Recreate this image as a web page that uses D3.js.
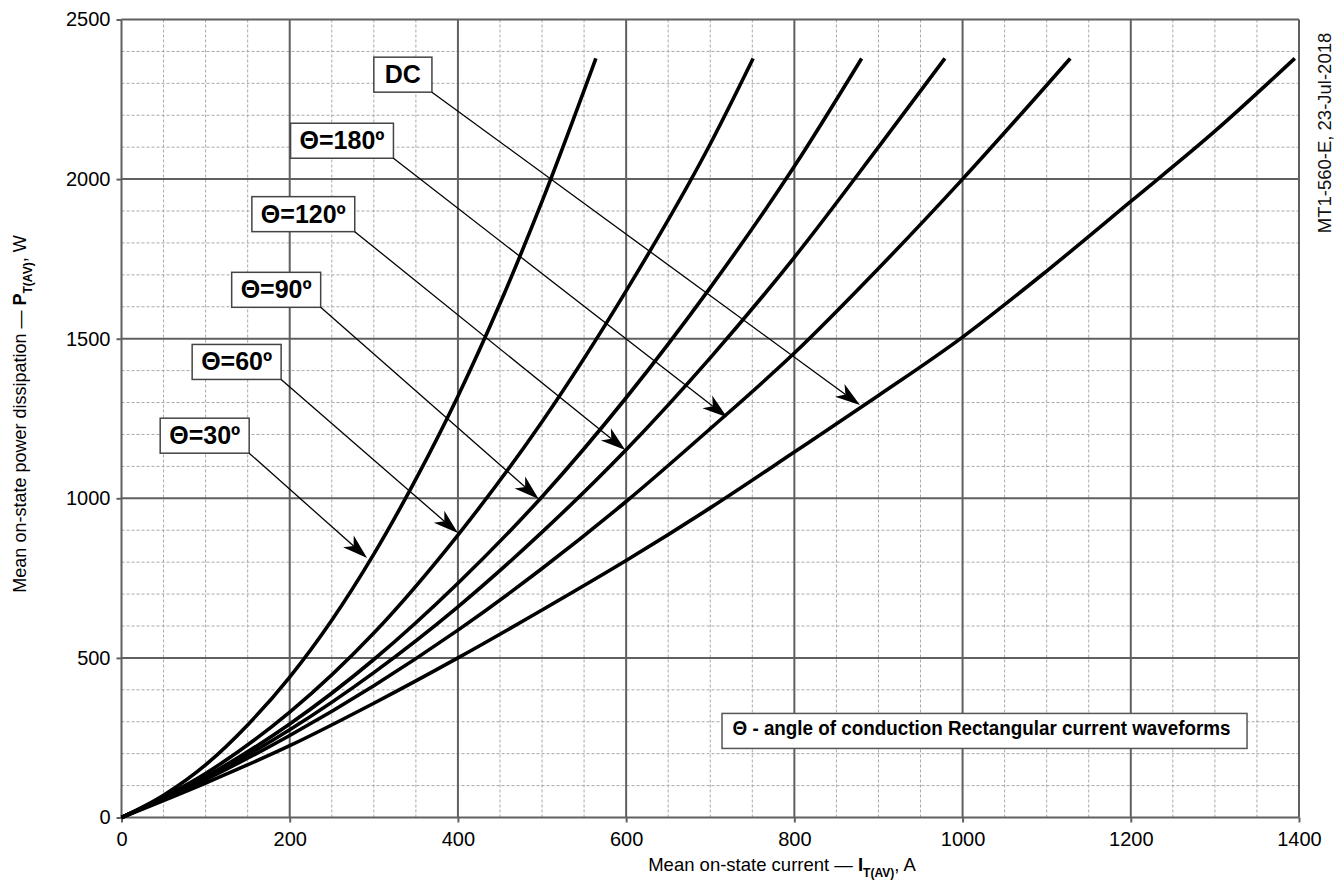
<!DOCTYPE html>
<html><head><meta charset="utf-8">
<script src="https://cdn.jsdelivr.net/npm/d3@7"></script>
<style>
body{margin:0;background:#fff;}
svg text{font-family:"Liberation Sans", Arial, Helvetica, sans-serif;}
</style></head>
<body><svg id="chart" width="1343" height="884"></svg>
<script>
// ---------- data ----------
const xTickValues = [0, 200, 400, 600, 800, 1000, 1200, 1400];
const yTickValues = [0, 500, 1000, 1500, 2000, 2500];

const current30  = [0, 50, 100, 150, 200, 250, 300, 350, 400, 450, 500, 564];
const power30    = [0, 70, 165, 290, 440, 618, 825, 1060, 1320, 1610, 1930, 2378];
const current60  = [0, 100, 200, 300, 400, 500, 600, 700, 751];
const power60    = [0, 138, 330, 578, 885, 1240, 1650, 2110, 2378];
const current90  = [0, 100, 200, 300, 400, 500, 600, 700, 800, 880];
const power90    = [0, 128, 293, 495, 734, 1005, 1315, 1660, 2040, 2378];
const current120 = [0, 100, 200, 300, 400, 500, 600, 700, 800, 900, 979];
const power120   = [0, 124, 275, 454, 660, 894, 1152, 1440, 1755, 2100, 2378];
const current180 = [0, 100, 200, 300, 400, 500, 600, 700, 800, 900, 1000, 1128];
const power180   = [0, 119, 257, 413, 587, 780, 990, 1218, 1455, 1720, 2000, 2378];
const currentDC  = [0, 100, 200, 300, 400, 500, 600, 700, 800, 900, 1000, 1100, 1200, 1300, 1395];
const powerDC    = [0, 108, 225, 358, 500, 650, 805, 970, 1145, 1322, 1505, 1712, 1930, 2150, 2378];

const seriesNames = ["Θ=30º", "Θ=60º", "Θ=90º", "Θ=120º", "Θ=180º", "DC"];
const seriesCurrents = [current30, current60, current90, current120, current180, currentDC];
const seriesPowers = [power30, power60, power90, power120, power180, powerDC];

// label box anchor (top-left) and arrow tip, in data units (A, W)
const labelBoxCurrent = [46, 84, 131, 155, 201, 300];
const labelBoxPower   = [1251, 1482, 1708, 1945, 2175, 2382];
const arrowTipCurrent = [292, 400, 496, 599, 720, 878];
const arrowTipPower   = [813, 891, 998, 1151, 1254, 1292];

const legendText = "Θ - angle of conduction Rectangular current waveforms";
const xTitleMain = "Mean on-state current — ", xTitleSym = "I", xTitleSub = "T(AV)", xTitleEnd = ", A";
const yTitleMain = "Mean on-state power dissipation — ", yTitleSym = "P", yTitleSub = "T(AV)", yTitleEnd = ", W";
const sideNote = "MT1-560-E, 23-Jul-2018";

// ---------- layout ----------
const svg = d3.select("#chart");
const L = 121.5, R = 1299, T = 19.5, B = 817.5;
const x = d3.scaleLinear().domain([0, 1400]).range([L, R]);
const y = d3.scaleLinear().domain([0, 2500]).range([B, T]);

const gridColor = "#606060";
const minorColor = "#a8a8a8";

// minor grid
const minorX = d3.range(0, 1401, 50).filter(v => v % 200 !== 0);
const minorY = d3.range(0, 2501, 100).filter(v => v % 500 !== 0);
const grid = svg.append("g");
grid.selectAll(".mx").data(minorX).join("line")
  .attr("x1", d => x(d)).attr("x2", d => x(d)).attr("y1", T).attr("y2", B)
  .attr("stroke", minorColor).attr("stroke-width", 1).attr("stroke-dasharray", "3,2");
grid.selectAll(".my").data(minorY).join("line")
  .attr("y1", d => y(d)).attr("y2", d => y(d)).attr("x1", L).attr("x2", R)
  .attr("stroke", minorColor).attr("stroke-width", 1).attr("stroke-dasharray", "3,2");
// major grid
grid.selectAll(".Mx").data(xTickValues).join("line")
  .attr("x1", d => x(d)).attr("x2", d => x(d)).attr("y1", T).attr("y2", B)
  .attr("stroke", gridColor).attr("stroke-width", 2);
grid.selectAll(".My").data(yTickValues).join("line")
  .attr("y1", d => y(d)).attr("y2", d => y(d)).attr("x1", L).attr("x2", R)
  .attr("stroke", gridColor).attr("stroke-width", 2);

// axes
const xAxis = svg.append("g").attr("transform", `translate(0,${B})`)
  .call(d3.axisBottom(x).tickValues(xTickValues).tickSize(5).tickPadding(9).tickFormat(d3.format("d")));
const yAxis = svg.append("g").attr("transform", `translate(${L},0)`)
  .call(d3.axisLeft(y).tickValues(yTickValues).tickSize(5).tickPadding(6).tickFormat(d3.format("d")));
[xAxis, yAxis].forEach(a => {
  a.select(".domain").remove();
  a.selectAll(".tick line").attr("stroke", gridColor).attr("stroke-width", 2);
  a.selectAll(".tick text").attr("font-size", 20).attr("fill", "#000")
    .style("font-family", '"Liberation Sans", Arial, sans-serif');
});

// curves
const line = d3.line().x(d => x(d[0])).y(d => y(d[1])).curve(d3.curveMonotoneX);
seriesNames.forEach((name, i) => {
  const pts = seriesCurrents[i].map((c, k) => [c, seriesPowers[i][k]]);
  svg.append("path").datum(pts).attr("d", line)
    .attr("fill", "none").attr("stroke", "#000").attr("stroke-width", 3.6)
    .attr("stroke-linejoin", "round");
});

// labels with arrows
seriesNames.forEach((name, i) => {
  const bx = x(labelBoxCurrent[i]), by = y(labelBoxPower[i]);
  const g = svg.append("g");
  const rect = g.append("rect");
  const txt = g.append("text").text(name)
    .attr("x", bx + (name === "DC" ? 11 : 9)).attr("y", by + 26)
    .attr("font-size", 25).attr("font-weight", "bold").attr("fill", "#000");
  const w = txt.node().getComputedTextLength() + (name === "DC" ? 22 : 18);
  const h = 35;
  rect.attr("x", bx).attr("y", by).attr("width", w).attr("height", h)
    .attr("fill", "#fff").attr("stroke", "#444").attr("stroke-width", 1.5);
  // arrow
  const sx = bx + w, sy = by + h;
  const tx = x(arrowTipCurrent[i]), ty = y(arrowTipPower[i]);
  const dx = tx - sx, dy = ty - sy, len = Math.hypot(dx, dy);
  const ux = dx / len, uy = dy / len, nx = -uy, ny = ux;
  const AL = 25, AW = 8;
  const bxh = tx - AL * ux, byh = ty - AL * uy;
  const nxp = tx - 0.72 * AL * ux, nyp = ty - 0.72 * AL * uy;
  svg.append("line").attr("x1", sx).attr("y1", sy).attr("x2", nxp).attr("y2", nyp)
    .attr("stroke", "#000").attr("stroke-width", 1.3);
  svg.append("path")
    .attr("d", `M${tx},${ty} L${bxh + AW * nx},${byh + AW * ny} L${nxp},${nyp} L${bxh - AW * nx},${byh - AW * ny} Z`)
    .attr("fill", "#000");
});

// legend box
const lg = svg.append("g");
const lgx = x(714), lgy = y(326);
lg.append("rect").attr("x", lgx).attr("y", lgy).attr("width", 525).attr("height", 35)
  .attr("fill", "#fff").attr("stroke", "#555").attr("stroke-width", 1.5);
lg.append("text").text(legendText).attr("x", lgx + 10.5).attr("y", lgy + 22)
  .attr("font-size", 20).attr("font-weight", "bold").attr("fill", "#000")
  .attr("textLength", 498).attr("lengthAdjust", "spacingAndGlyphs");

// x title
const xt = svg.append("text").attr("x", 782).attr("y", 871).attr("text-anchor", "middle")
  .attr("font-size", 18.5).attr("fill", "#000");
xt.append("tspan").text(xTitleMain);
xt.append("tspan").text(xTitleSym).attr("font-weight", "bold");
xt.append("tspan").text(xTitleSub).attr("font-weight", "bold").attr("font-size", 12).attr("dy", 6);
xt.append("tspan").text(xTitleEnd).attr("dy", -6);

// y title
const yt = svg.append("text").attr("transform", "translate(26,414) rotate(-90)")
  .attr("text-anchor", "middle").attr("font-size", 18).attr("fill", "#000");
yt.append("tspan").text(yTitleMain);
yt.append("tspan").text(yTitleSym).attr("font-weight", "bold");
yt.append("tspan").text(yTitleSub).attr("font-weight", "bold").attr("font-size", 12).attr("dy", 6);
yt.append("tspan").text(yTitleEnd).attr("dy", -6);

// side note
svg.append("text").attr("transform", "translate(1331,133) rotate(-90)")
  .attr("text-anchor", "middle").attr("font-size", 18.5).attr("fill", "#111").text(sideNote);
</script>
</body></html>
